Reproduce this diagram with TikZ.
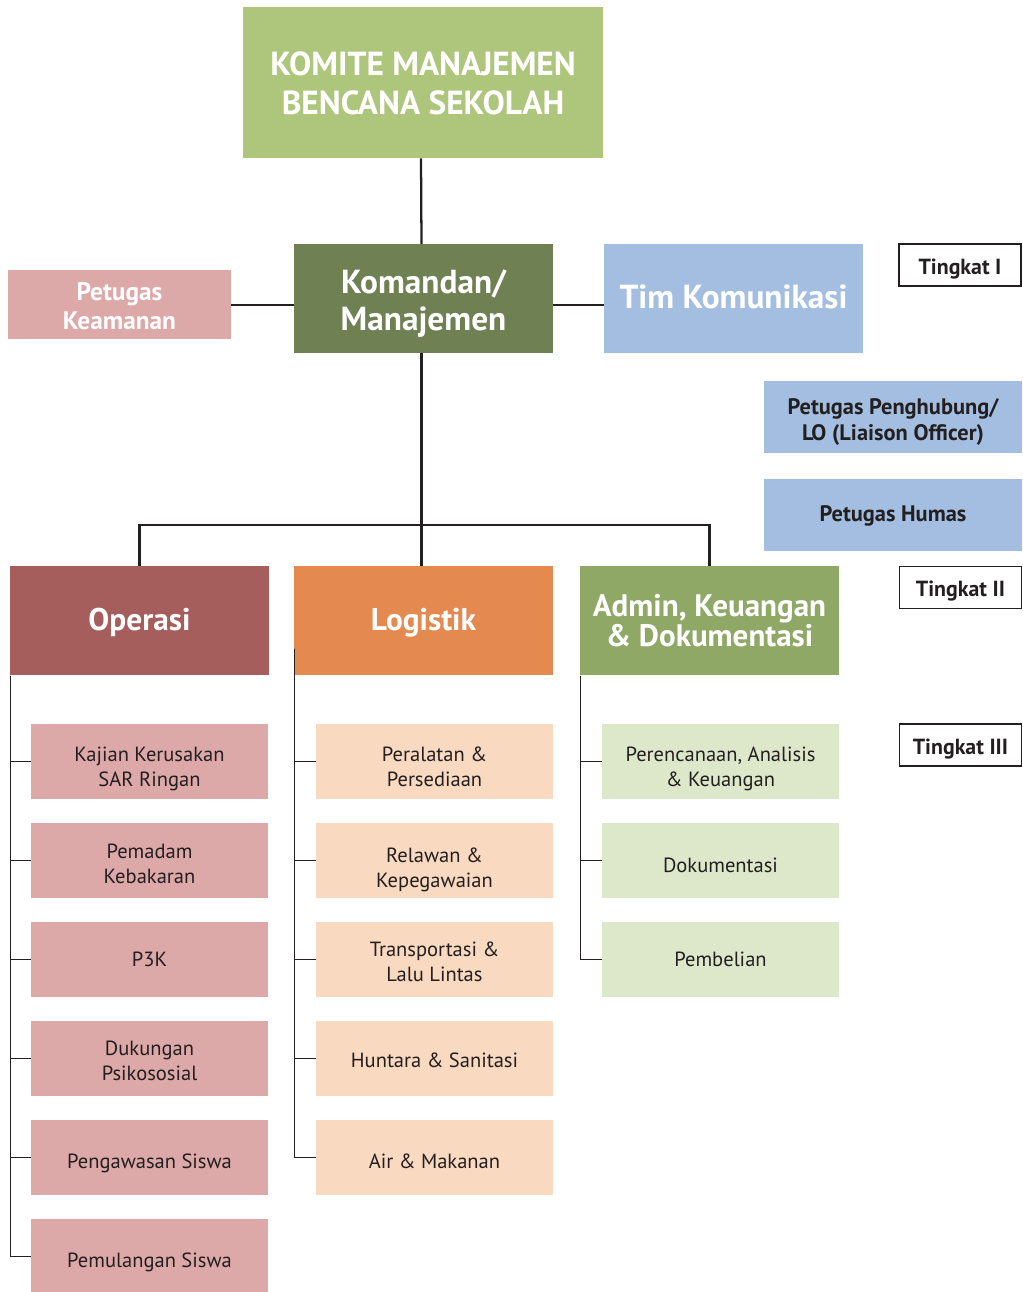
\documentclass[tikz,border=0pt]{standalone}
\usepackage{fontspec}
\setmainfont{PT Sans}
\usetikzlibrary{positioning}
\definecolor{ink}{HTML}{231F20}
\definecolor{komite}{HTML}{AEC67B}
\definecolor{komandan}{HTML}{6F8052}
\definecolor{rosa}{HTML}{DDA8A8}
\definecolor{biru}{HTML}{A3BEE0}
\definecolor{operasi}{HTML}{A65E5C}
\definecolor{logistik}{HTML}{E48A50}
\definecolor{admin}{HTML}{90A866}
\definecolor{peach}{HTML}{F9D9BF}
\definecolor{mint}{HTML}{DDE8CB}
\newcommand\isi[2]{\rule{0pt}{#1}#2\rule[-7pt]{0pt}{0pt}}
\tikzset{
  box/.style={inner sep=0pt, align=center, minimum width=194.25pt, minimum height=81.75pt},
  head/.style={box, text=white, font=\bfseries\fontsize{25}{28}\selectfont},
  seksi/.style={box, text=white, font=\bfseries\fontsize{23.5}{21.5}\selectfont},
  sub/.style={box, text=ink, minimum width=177.75pt, minimum height=56.25pt, font=\fontsize{15.4}{18.75}\selectfont},
  tingkat/.style={draw=ink, line width=1pt, fill=white, inner sep=0pt, minimum width=91.5pt, minimum height=31.5pt, text=ink, font=\bfseries\fontsize{16.4}{18}\selectfont},
  staf/.style={box, fill=biru, text=ink, minimum width=193.5pt, minimum height=54pt, font=\bfseries\fontsize{16.8}{19.3}\selectfont},
  garis/.style={ink, line width=1.7pt},
  cabang/.style={ink, line width=1pt}
}
\begin{document}
\begin{tikzpicture}[x=0.75pt, y=-0.75pt]
\useasboundingbox (0,0) rectangle (1022,1292);
\node[head, fill=komite, minimum width=270pt, minimum height=113.25pt, font=\bfseries\fontsize{25}{29.5}\selectfont] (komite) at (423,82.5) {\isi{25.25pt}{KOMITE MANAJEMEN\\BENCANA SEKOLAH}};
\node[head, fill=komandan] (komandan) at (423.5,298.7) {\isi{26.9pt}{Komandan/\\Manajemen}};
\node[box, fill=rosa, text=white, minimum width=167.25pt, minimum height=51.75pt, font=\bfseries\fontsize{19}{22}\selectfont] (keamanan) at (119.5,304.7) {\isi{22pt}{Petugas\\Keamanan}};
\node[head, fill=biru] (timkom) at (733.5,298.7) {\isi{21.4pt}{Tim Komunikasi}};
\node[tingkat] (tingkatI) at (960,265) {\isi{20.5pt}{Tingkat I}};
\node[staf] (penghubung) at (893,417.2) {\isi{21.9pt}{Petugas Penghubung/\\LO (Liaison Officer)}};
\node[staf] (humas) at (893,515.3) {\isi{16.6pt}{Petugas Humas}};
\node[tingkat] (tingkatII) at (960.5,587.5) {\isi{20.5pt}{Tingkat II}};
\node[tingkat] (tingkatIII) at (960.5,745) {\isi{20.5pt}{Tingkat III}};
\node[seksi, fill=operasi] (operasi) at (139.5,620.8) {\isi{20.8pt}{Operasi}};
\node[seksi, fill=logistik] (logistik) at (423.5,620.8) {\isi{20.8pt}{Logistik}};
\node[seksi, fill=admin, font=\bfseries\fontsize{23.3}{21.5}\selectfont] (admin) at (709.5,620.8) {\isi{23.25pt}{Admin, Keuangan\\\& Dokumentasi}};
\foreach \n/\h/\t [count=\i] in {kajian/26.05pt/{Kajian Kerusakan\\SAR Ringan}, pemadam/22.15pt/{Pemadam\\Kebakaran}, ptigak/17.4pt/P3K, dukungan/20.75pt/{Dukungan\\Psikososial}, pengawasan/24.2pt/Pengawasan Siswa, pemulangan/23.2pt/Pemulangan Siswa}
  \node[sub, fill=rosa] (\n) at (149.5,{761.5+99*(\i-1)}) {\isi{\h}{\t}};
\foreach \n/\h/\t [count=\i] in {peralatan/26.05pt/{Peralatan \&\\Persediaan}, relawan/28.15pt/{Relawan \&\\Kepegawaian}, transportasi/21.75pt/{Transportasi \&\\Lalu Lintas}, huntara/19.9pt/Huntara \& Sanitasi, air/24.2pt/Air \& Makanan}
  \node[sub, fill=peach] (\n) at (434.5,{761.5+99*(\i-1)}) {\isi{\h}{\t}};
\foreach \n/\h/\t [count=\i] in {perencanaan/26.05pt/{Perencanaan, Analisis\\\& Keuangan}, dokumentasi/24.4pt/Dokumentasi, pembelian/18pt/Pembelian}
  \node[sub, fill=mint] (\n) at (720.5,{761.5+99*(\i-1)}) {\isi{\h}{\t}};
\draw[garis] ([xshift=-1.5pt]komite.south) -- ([xshift=-1.5pt]komandan.north);
\draw[garis] (keamanan.east) -- (keamanan.east -| komandan.west);
\draw[garis] (keamanan.east -| komandan.east) -- (keamanan.east -| timkom.west);
\draw[garis] ([xshift=-1.5pt]komandan.south) -- ([xshift=-1.5pt]logistik.north);
\draw[garis] (operasi.north) -- ++(0,-41) -| (admin.north);
\foreach \n in {kajian,pemadam,ptigak,dukungan,pengawasan,pemulangan}
  \draw[cabang] ([xshift=0.75pt]operasi.south west) |- (\n.west);
\foreach \n in {peralatan,relawan,transportasi,huntara,air}
  \draw[cabang] ([shift={(1,-27)}]logistik.south west) |- (\n.west);
\foreach \n in {perencanaan,dokumentasi,pembelian}
  \draw[cabang] ([xshift=0.75pt]admin.south west) |- (\n.west);
\end{tikzpicture}
\end{document}
